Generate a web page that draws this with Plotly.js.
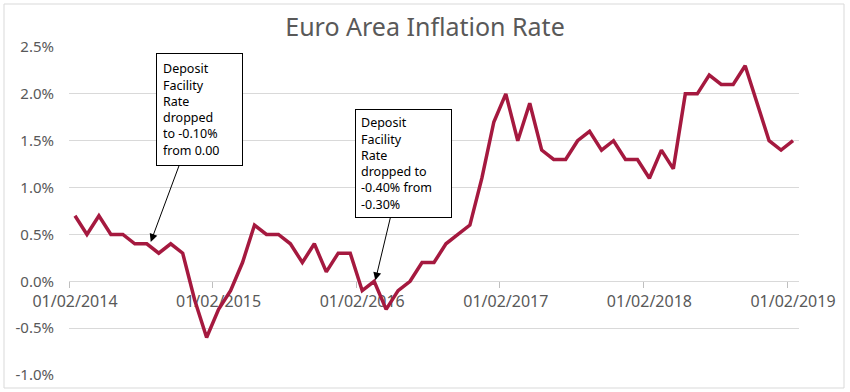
<!DOCTYPE html>
<html>
<head>
<meta charset="utf-8">
<script src="https://cdn.plot.ly/plotly-3.0.1.min.js"></script>
<style>
  html, body { margin: 0; padding: 0; background: #ffffff; }
  #chart { width: 850px; height: 392px; }
</style>
</head>
<body>
<div id="chart"></div>
<script>
// Monthly observations, Feb 2014 – Feb 2019
const months = [
  "2014-02","2014-03","2014-04","2014-05","2014-06","2014-07","2014-08","2014-09","2014-10","2014-11","2014-12",
  "2015-01","2015-02","2015-03","2015-04","2015-05","2015-06","2015-07","2015-08","2015-09","2015-10","2015-11","2015-12",
  "2016-01","2016-02","2016-03","2016-04","2016-05","2016-06","2016-07","2016-08","2016-09","2016-10","2016-11","2016-12",
  "2017-01","2017-02","2017-03","2017-04","2017-05","2017-06","2017-07","2017-08","2017-09","2017-10","2017-11","2017-12",
  "2018-01","2018-02","2018-03","2018-04","2018-05","2018-06","2018-07","2018-08","2018-09","2018-10","2018-11","2018-12",
  "2019-01","2019-02"
];
// Inflation rate, %
const inflation = [
  0.7, 0.5, 0.7, 0.5, 0.5, 0.4, 0.4, 0.3, 0.4, 0.3, -0.2,
  -0.6, -0.3, -0.1, 0.2, 0.6, 0.5, 0.5, 0.4, 0.2, 0.4, 0.1, 0.3,
  0.3, -0.1, 0.0, -0.3, -0.1, 0.0, 0.2, 0.2, 0.4, 0.5, 0.6, 1.1,
  1.7, 2.0, 1.5, 1.9, 1.4, 1.3, 1.3, 1.5, 1.6, 1.4, 1.5, 1.3,
  1.3, 1.1, 1.4, 1.2, 2.0, 2.0, 2.2, 2.1, 2.1, 2.3, 1.9, 1.5,
  1.4, 1.5
];
// X tick labels (placed on the February points)
const xTickMonths = ["2014-02","2015-02","2016-02","2017-02","2018-02","2019-02"];
const xTickLabels = ["01/02/2014","01/02/2015","01/02/2016","01/02/2017","01/02/2018","01/02/2019"];
// Y tick values and labels
const yTickVals = [-1.0, -0.5, 0.0, 0.5, 1.0, 1.5, 2.0, 2.5];
const yTickLabels = ["-1.0%","-0.5%","0.0%","0.5%","1.0%","1.5%","2.0%","2.5%"];
// Annotation texts
const note1 = "Deposit<br>Facility<br>Rate<br>dropped<br>to -0.10%<br>from 0.00";
const note2 = "Deposit<br>Facility<br>Rate<br>dropped to<br>-0.40% from<br>-0.30%";

const xIdx = months.map((m, i) => i);
const xTickVals = xTickMonths.map(m => months.indexOf(m));
const xBoundaryTicks = xTickVals.map(v => v - 0.5);
const yRange = [-1.0, 2.5];

const FONT = "Noto Sans, Open Sans, sans-serif";
const GREY = "#595959";

const trace = {
  x: xIdx,
  y: inflation,
  type: "scatter",
  mode: "lines",
  line: { color: "#A5193F", width: 3.5 },
  hoverinfo: "skip"
};

const layout = {
  width: 850,
  height: 392,
  margin: { l: 69, r: 51, t: 47, b: 17, pad: 0 },
  paper_bgcolor: "#ffffff",
  plot_bgcolor: "#ffffff",
  showlegend: false,
  title: {
    text: "Euro Area Inflation Rate",
    font: { family: FONT, size: 25, color: GREY },
    x: 0.5, xref: "container", xanchor: "center",
    y: 1 - 27.5 / 392, yref: "container", yanchor: "middle"
  },
  xaxis: {
    range: [-0.5, months.length - 0.5],
    anchor: "free",
    position: (0 - yRange[0]) / (yRange[1] - yRange[0]),
    tickmode: "array",
    tickvals: xTickVals,
    ticktext: xTickLabels,
    ticks: "",
    showgrid: false,
    zeroline: false,
    showline: true,
    linecolor: "#d9d9d9",
    linewidth: 1,
    minor: {
      tickmode: "array",
      tickvals: xBoundaryTicks,
      ticks: "outside",
      ticklen: 6,
      tickwidth: 1,
      tickcolor: "#bfbfbf",
      showgrid: false
    },
    tickfont: { family: FONT, size: 16, color: GREY },
    ticklabelstandoff: 6,
    layer: "below traces",
    fixedrange: true
  },
  yaxis: {
    range: yRange,
    tickmode: "array",
    tickvals: yTickVals,
    ticktext: yTickLabels,
    ticks: "",
    showgrid: true,
    gridcolor: "#d9d9d9",
    gridwidth: 1,
    zeroline: false,
    showline: false,
    tickfont: { family: FONT, size: 15, color: GREY },
    ticklabelstandoff: 14,
    fixedrange: true
  },
  shapes: [
    {
      type: "rect", xref: "paper", yref: "paper",
      x0: (4 - 69) / 730, x1: (844 - 69) / 730,
      y0: -13 / 328, y1: 1 + 43 / 328,
      line: { color: "#d9d9d9", width: 1 },
      fillcolor: "rgba(0,0,0,0)",
      layer: "below"
    }
  ],
  annotations: [
    {
      x: 6.33, y: 0.42, xref: "x", yref: "y",
      text: note1,
      showarrow: true, arrowhead: 2, arrowsize: 1.6, arrowwidth: 1, arrowcolor: "#000000",
      ax: 49, ay: -132, axref: "pixel", ayref: "pixel",
      align: "left", valign: "middle",
      width: 73, height: 99,
      bgcolor: "#ffffff", bordercolor: "#000000", borderwidth: 1, borderpad: 6,
      font: { family: FONT, size: 12.5, color: "#000000" }
    },
    {
      x: 25.1, y: 0.01, xref: "x", yref: "y",
      text: note2,
      showarrow: true, arrowhead: 2, arrowsize: 1.6, arrowwidth: 1, arrowcolor: "#000000",
      ax: 28, ay: -117, axref: "pixel", ayref: "pixel",
      align: "left", valign: "middle",
      width: 85, height: 97,
      bgcolor: "#ffffff", bordercolor: "#000000", borderwidth: 1, borderpad: 5,
      font: { family: FONT, size: 12.5, color: "#000000" }
    }
  ]
};

Plotly.newPlot("chart", [trace], layout, { staticPlot: true, displayModeBar: false });
</script>
</body>
</html>
